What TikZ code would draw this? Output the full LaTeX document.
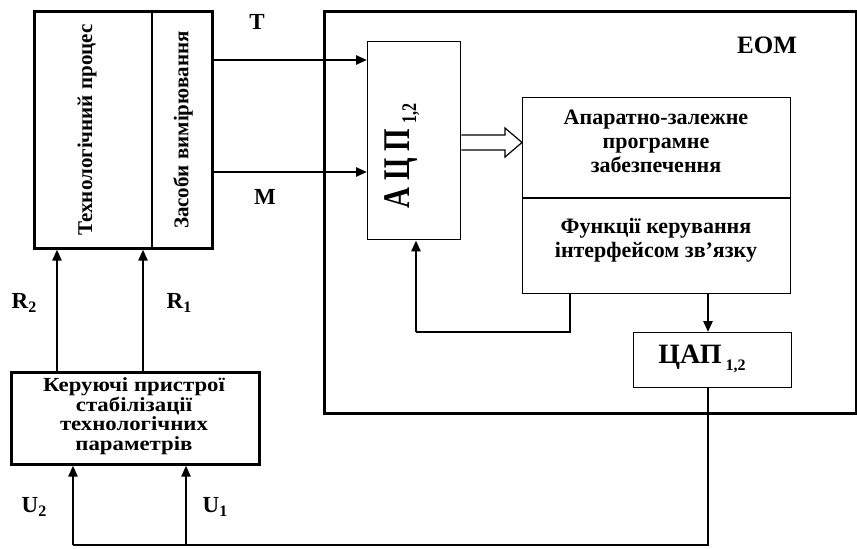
\documentclass[tikz,border=0pt]{standalone}
\usepackage{fontspec}
\setmainfont{Liberation Serif}
\newfontfamily\ctlfont[FakeStretch=1.14]{Liberation Serif}
\usetikzlibrary{arrows.meta}
\newcommand{\mysub}[2][4pt]{{\fontsize{16}{16}\selectfont\raisebox{-#1}{#2}}}
\begin{document}
\begin{tikzpicture}[x=1pt,y=-1pt,
  thickbox/.style={draw,line width=2.6pt,inner sep=0pt,anchor=north west},
  thinbox/.style={draw,line width=1.4pt,inner sep=0pt,anchor=north west},
  txt/.style={font=\bfseries\fontsize{22}{24}\selectfont,align=center,inner sep=0pt},
  lbl/.style={font=\bfseries\fontsize{23}{24}\selectfont,inner sep=0pt},
  arr/.style={line width=2.4pt,-{Triangle[length=11pt,width=9pt]}},
  thinline/.style={line width=1.2pt}]
\useasboundingbox (0,0) rectangle (857,549);
% boxes
\node[thickbox,minimum width=178pt,minimum height=237pt] (lb) at (33,10) {};
\node[thickbox,minimum width=532pt,minimum height=402pt] (eom) at (323,10) {};
\node[thinbox,minimum width=93pt,minimum height=198pt] (adc) at (367,41) {};
\node[thinbox,minimum width=268pt,minimum height=196pt] (sw) at (522,97) {};
\node[thinbox,minimum width=158pt,minimum height=55pt] (dac) at (633,332) {};
\node[thickbox,minimum width=248pt,minimum height=92pt] (ctl) at (10,371) {};
% dividers
\coordinate (divx) at (152,0);
\draw[line width=1.2pt] (lb.north -| divx) -- (lb.south -| divx);
\coordinate (divy) at (0,198);
\draw[line width=1.2pt] (sw.west |- divy) -- (sw.east |- divy);
% texts
\node[txt,rotate=90,font=\bfseries\fontsize{21}{24}\selectfont] (ttp) at (87,130) {Технологічний процес};
\node[txt,rotate=90,font=\bfseries\fontsize{21}{24}\selectfont] (tzv) at (183,130) {Засоби вимірювання};
\node[txt,rotate=90,font=\bfseries\fontsize{29}{30}\selectfont] (tadc) at (402,156) {\scalebox{1}[1.3]{А\hspace{7pt}Ц\hspace{7pt}П\hspace{5pt}\mysub[5pt]{1,2}}};
\node[txt] (tsw1) at (656,141) {Апаратно-залежне\\програмне\\забезпечення};
\node[txt] (tsw2) at (656,240) {Функції керування\\інтерфейсом зв’язку};
\node[txt,font=\bfseries\fontsize{28}{30}\selectfont] (tdac) at (702,359) {ЦАП\hspace{4pt}\mysub[7pt]{1,2}};
\node[txt,font=\ctlfont\bfseries\fontsize{20}{19.5}\selectfont] (tctl) at (134,416) {Керуючі пристрої\\стабілізації\\технологічних\\параметрів};
\node[lbl,font=\bfseries\fontsize{25}{26}\selectfont] (teom) at (767,45) {ЕОМ};
\node[lbl] (lT) at (257,22) {Т};
\node[lbl] (lM) at (265,197) {М};
\node[lbl] (lR2) at (24,303) {R\mysub{2}};
\node[lbl] (lR1) at (179,303) {R\mysub{1}};
\node[lbl] (lU2) at (34,507) {U\mysub{2}};
\node[lbl] (lU1) at (215,507) {U\mysub{1}};
% T and M
\coordinate (tY) at (0,60);
\coordinate (mY) at (0,172);
\draw[arr] (lb.east |- tY) -- (adc.west |- tY);
\draw[arr] (lb.east |- mY) -- (adc.west |- mY);
% R arrows
\coordinate (r2x) at (57,0);
\coordinate (r1x) at (143,0);
\draw[arr] (ctl.north -| r2x) -- (lb.south -| r2x);
\draw[arr] (ctl.north -| r1x) -- (lb.south -| r1x);
% hollow arrow
\coordinate (ha) at (505,135);
\coordinate (hb) at (505,150);
\coordinate (hc) at (505,128);
\coordinate (hd) at (505,157);
\coordinate (htip) at (0,142.5);
\draw[line width=1.2pt,line join=miter] (adc.east |- ha) -- (ha) -- (hc) -- (sw.west |- htip) -- (hd) -- (hb) -- (adc.east |- hb);
% feedback to ADC
\coordinate (fbx) at (570,0);
\coordinate (fby) at (0,332);
\coordinate (fbl) at (416,0);
\draw[line width=1.8pt] (sw.south -| fbx) -- (fbx |- fby) -- (fbl |- fby);
\draw[arr] (fbl |- fby) -- (adc.south -| fbl);
% software to DAC
\coordinate (dx) at (708,0);
\draw[arr] (sw.south -| dx) -- (dac.north -| dx);
% DAC output loop
\coordinate (by) at (0,545);
\coordinate (u2x) at (73,0);
\coordinate (u1x) at (186,0);
\draw[thinline] (dac.south -| dx) -- (dx |- by) -- (u1x |- by);
\draw[line width=2pt] (u1x |- by) -- (u2x |- by);
\draw[arr] (u2x |- by) -- (ctl.south -| u2x);
\draw[arr] (u1x |- by) -- (ctl.south -| u1x);
\end{tikzpicture}
\end{document}
